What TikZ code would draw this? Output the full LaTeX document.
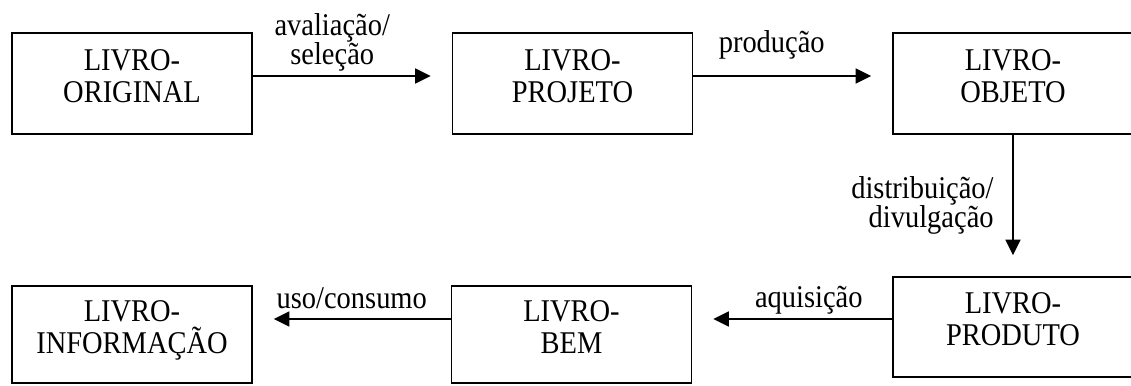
\documentclass[tikz,border=0pt]{standalone}
\usepackage{fontspec}
\setmainfont{Liberation Serif}[FakeStretch=0.9]
\usetikzlibrary{arrows.meta}
\begin{document}
\begin{tikzpicture}[box/.style={rectangle, draw, line width=1pt, minimum width=4.8cm, align=center, font=\fontsize{18}{18.2}\selectfont, text depth=0.3cm},
            lbl/.style={font=\fontsize{18}{16.5}\selectfont, align=center, inner sep=2pt},
            arr/.style={-{Triangle[length=0.31cm, width=0.3cm]}, line width=1pt, shorten >=0.42cm}]
            \useasboundingbox (0,0) rectangle (22.62,7.7);
            \node[box, minimum height=2.02cm] (orig) at (2.64,6.03) {LIVRO-\\ORIGINAL};
            \node[box, minimum height=2.02cm] (proj) at (11.45,6.03) {LIVRO-\\PROJETO};
            \node[box, minimum height=2.02cm] (obj) at (20.26,6.03) {LIVRO-\\OBJETO};
            \node[box, minimum height=2cm] (prod) at (20.26,1.16) {LIVRO-\\PRODUTO};
            \node[box, minimum height=1.94cm] (bem) at (11.43,1.01) {LIVRO-\\BEM};
            \node[box, minimum height=1.94cm] (info) at (2.64,1.01) {LIVRO-\\INFORMAÇÃO};
            \draw[arr] ([yshift=0.15cm]orig.east) -- node[lbl, above, xshift=-0.4cm]{avaliação/\\seleção} ([yshift=0.15cm]orig.east -| proj.west);
            \draw[arr] ([yshift=0.15cm]proj.east) -- node[lbl, above, xshift=-0.42cm, yshift=0.24cm]{produção} ([yshift=0.15cm]proj.east -| obj.west);
            \draw[arr] (obj.south) -- node[lbl, left, align=right, xshift=-0.3cm]{distribuição/\\divulgação} (prod.north);
            \draw[arr] ([yshift=0.16cm]prod.west) -- node[lbl, above, xshift=0.33cm]{aquisição} ([yshift=0.16cm]prod.west -| bem.east);
            \draw[arr] ([yshift=0.31cm]bem.west) -- node[lbl, above, yshift=0.12cm]{uso/consumo} ([yshift=0.31cm]bem.west -| info.east);
        \end{tikzpicture}
\end{document}
